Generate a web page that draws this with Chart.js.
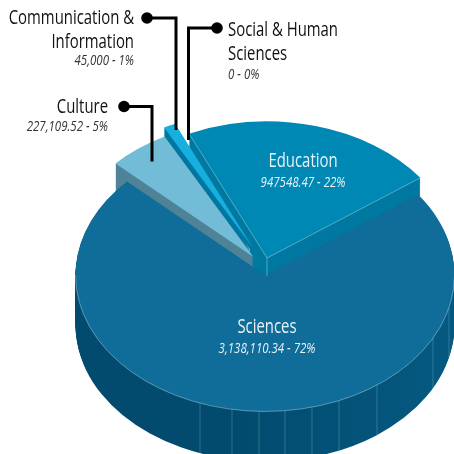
<!DOCTYPE html>
<html>
<head>
<meta charset="utf-8">
<title>Budget by sector</title>
<script src="https://cdn.jsdelivr.net/npm/chart.js@4"></script>
<style>
  html, body { margin: 0; padding: 0; background: #fff; }
  canvas { display: block; }
</style>
</head>
<body>
<canvas id="myChart" width="454" height="454"></canvas>
<script>
// chart data
const categories = ['Sciences', 'Culture', 'Communication & Information', 'Social & Human Sciences', 'Education'];
const values = [3138110.34, 227109.52, 45000, 0, 947548.47];
const valueLabels = ['3,138,110.34 - 72%', '227,109.52 - 5%', '45,000 - 1%', '0 - 0%', '947548.47 - 22%'];
const topColors = ['#106c98', '#72bcd7', '#17afdd', '#17afdd', '#0088b4'];
const sideColors = ['#024f75', '#4f8397', '#0077a0', '#0077a0', '#0079a1'];

// tilt of the pie and where each slice sits once pulled apart
const tilt = 0.72;
const sliceCenters = [
  { x: 265, y: 275, depth: 50 },
  { x: 253.5, y: 257, depth: 30 },
  { x: 253, y: 248, depth: 18 },
  { x: 266, y: 258, depth: 18 },
  { x: 267, y: 258, depth: 18 }
];
// back to front
const paintOrder = [4, 2, 1, 0];

// seams on the wall of the big slice
const seamsX = [200, 232, 259, 285, 312, 339, 377, 433, 449];

const labelFont = '"Open Sans", sans-serif';
const titleScale = 0.745;
const subScale = 0.82;

// text blocks: index into categories, lines, anchor
const textBlocks = [
  { i: 0, lines: ['Sciences'], x: 267, y: 333, sub: 353, align: 'center', color: '#e8f3f8', subColor: '#e8f3f8' },
  { i: 4, lines: ['Education'], x: 303, y: 167, sub: 187, align: 'center', color: '#e8f3f8', subColor: '#e8f3f8' },
  { i: 1, lines: ['Culture'], x: 108, y: 113, sub: 131, align: 'right', color: '#111', subColor: '#333' },
  { i: 2, lines: ['Communication &', 'Information'], x: 134, y: 24, sub: 65, align: 'right', color: '#111', subColor: '#333' },
  { i: 3, lines: ['Social & Human', 'Sciences'], x: 228, y: 36, sub: 79, align: 'left', color: '#111', subColor: '#333' }
];

// callout lines: dot, elbow, end of the leader
const leaders = [
  [[147, 18], [176, 18], [176, 130]],
  [[217, 28], [188.5, 28], [188.5, 140]],
  [[124, 106.5], [152, 106.5], [152, 161.5]]
];

function drawArcAt(ctx, arc, center, fill) {
  const base = arc.options;
  arc.options = Object.assign({}, base, { backgroundColor: fill });
  ctx.save();
  ctx.translate(center.x, center.y);
  ctx.scale(1, tilt);
  ctx.translate(-arc.x, -arc.y);
  arc.draw(ctx);
  ctx.restore();
  arc.options = base;
}

function edgePoint(arc, center, angle) {
  return {
    x: center.x + Math.cos(angle) * arc.outerRadius,
    y: center.y + Math.sin(angle) * arc.outerRadius * tilt
  };
}

function squeezedText(ctx, text, x, y, scale) {
  ctx.save();
  ctx.translate(x, y);
  ctx.scale(scale, 1);
  ctx.fillText(text, 0, 0);
  ctx.restore();
}

const pie3d = {
  id: 'pie3d',
  beforeDatasetDraw(chart, args) {
    const ctx = chart.ctx;
    const arcs = args.meta.data;

    paintOrder.forEach(function (i) {
      const arc = arcs[i];
      const c = sliceCenters[i];
      let side = sideColors[i];
      if (i === 0) {
        side = ctx.createLinearGradient(190, 0, 390, 0);
        side.addColorStop(0, '#024a6e');
        side.addColorStop(1, '#05587f');
      }
      for (let d = c.depth; d > 0; d--) {
        drawArcAt(ctx, arc, { x: c.x, y: c.y + d }, side);
      }
      drawArcAt(ctx, arc, c, topColors[i]);

      // inner wall filling the notch where the slices meet
      if (i === 4) {
        ctx.fillStyle = sideColors[4];
        ctx.beginPath();
        ctx.moveTo(250, 244);
        ctx.lineTo(c.x, c.y);
        ctx.lineTo(c.x, c.y + c.depth);
        ctx.lineTo(250, c.y + c.depth);
        ctx.closePath();
        ctx.fill();
      }
    });

    // thin highlights along the front edges
    ctx.save();
    ctx.lineWidth = 0.8;
    ctx.strokeStyle = 'rgba(190, 225, 240, 0.55)';
    const edu = arcs[4];
    const eduC = sliceCenters[4];
    [edu.startAngle, edu.endAngle].forEach(function (a) {
      const p = edgePoint(edu, eduC, a);
      ctx.beginPath();
      ctx.moveTo(eduC.x, eduC.y);
      ctx.lineTo(p.x, p.y);
      ctx.stroke();
    });
    ctx.beginPath();
    ctx.moveTo(eduC.x, eduC.y);
    ctx.lineTo(eduC.x, eduC.y + eduC.depth);
    ctx.stroke();

    const big = arcs[0];
    const bigC = sliceCenters[0];
    ctx.beginPath();
    ctx.ellipse(bigC.x, bigC.y, big.outerRadius, big.outerRadius * tilt, 0, 0, Math.PI);
    ctx.stroke();

    ctx.strokeStyle = 'rgba(190, 225, 240, 0.3)';
    seamsX.forEach(function (x) {
      const dx = (x - bigC.x) / big.outerRadius;
      const yTop = bigC.y + Math.sqrt(1 - dx * dx) * big.outerRadius * tilt;
      ctx.beginPath();
      ctx.moveTo(x, yTop);
      ctx.lineTo(x, yTop + bigC.depth);
      ctx.stroke();
    });
    ctx.restore();
    return false;
  },
  afterDraw(chart) {
    const ctx = chart.ctx;
    ctx.save();

    // leaders
    ctx.strokeStyle = '#000';
    ctx.fillStyle = '#000';
    ctx.lineWidth = 3;
    leaders.forEach(function (pts) {
      ctx.beginPath();
      ctx.moveTo(pts[0][0], pts[0][1]);
      ctx.lineTo(pts[1][0], pts[1][1]);
      ctx.lineTo(pts[2][0], pts[2][1]);
      ctx.stroke();
      ctx.beginPath();
      ctx.arc(pts[0][0], pts[0][1], 5.8, 0, Math.PI * 2);
      ctx.fill();
    });

    // labels
    textBlocks.forEach(function (b) {
      ctx.textAlign = b.align;
      ctx.textBaseline = 'alphabetic';
      ctx.fillStyle = b.color;
      ctx.font = '20px ' + labelFont;
      b.lines.forEach(function (line, n) {
        squeezedText(ctx, line, b.x, b.y + n * 24, titleScale);
      });
      ctx.fillStyle = b.subColor;
      ctx.font = 'italic 14px ' + labelFont;
      squeezedText(ctx, valueLabels[b.i], b.x, b.sub, subScale);
    });
    ctx.restore();
  }
};

new Chart(document.getElementById('myChart'), {
  type: 'pie',
  data: {
    labels: categories,
    datasets: [{
      data: values,
      backgroundColor: topColors,
      borderWidth: 0,
      radius: 189.5
    }]
  },
  options: {
    responsive: false,
    animation: false,
    devicePixelRatio: 1,
    rotation: 54,
    events: [],
    plugins: {
      legend: { display: false },
      tooltip: { enabled: false }
    }
  },
  plugins: [pie3d]
});
</script>
</body>
</html>
